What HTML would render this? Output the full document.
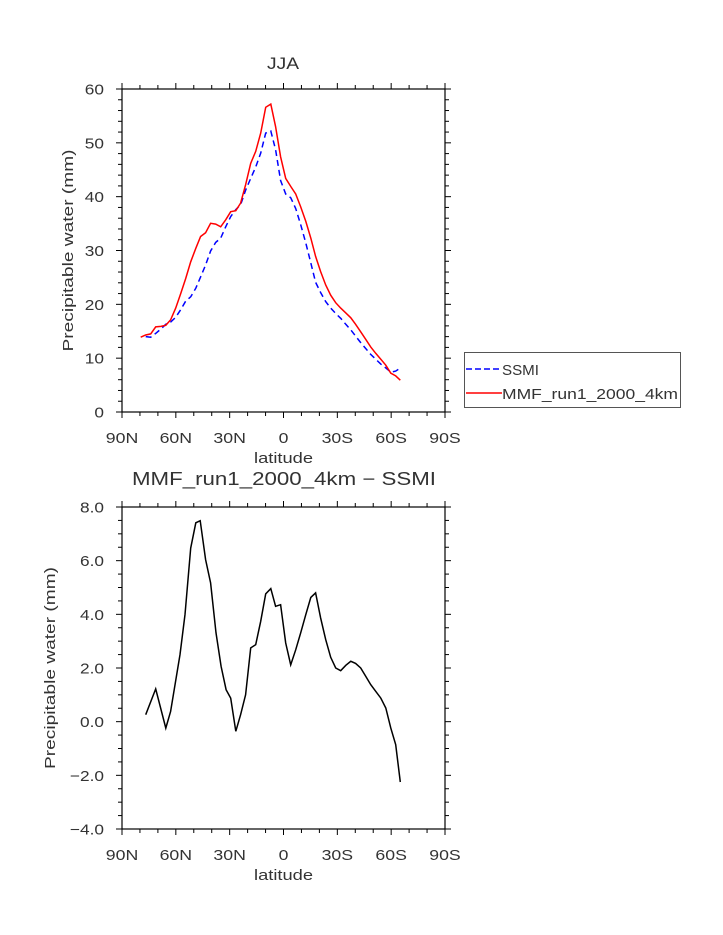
<!DOCTYPE html>
<html><head><meta charset="utf-8"><style>
body{margin:0;background:#fff}
svg{display:block;font-family:"Liberation Sans","DejaVu Sans",sans-serif}
text{fill:#333}
</style></head><body>
<svg id="chart" width="723" height="935" viewBox="0 0 723 935" xmlns="http://www.w3.org/2000/svg"></svg>
<script>
const lats=[79.6,76.8,74,71.2,68.4,65.6,62.9,60.1,57.3,54.5,51.7,48.9,46.2,43.4,40.6,37.8,35,32.2,29.4,26.6,23.9,21.1,18.3,15.5,12.7,9.9,7.1,4.4,1.6,-1.2,-4,-6.8,-9.6,-12.4,-15.2,-17.9,-20.7,-23.5,-26.3,-29.1,-31.9,-34.7,-37.5,-40.2,-43,-45.8,-48.6,-51.4,-54.2,-57,-59.8,-62.5,-65.1];
const mmf=[13.9,14.3,14.5,15.8,15.9,16.1,17.1,19.3,22.0,24.8,27.9,30.4,32.6,33.3,35.05,34.9,34.4,35.7,37.2,37.4,38.8,42.2,46.2,48.4,51.8,56.6,57.2,53.0,47.4,43.4,41.9,40.5,38.1,35.4,32.3,28.9,26.1,23.6,21.7,20.3,19.3,18.4,17.5,16.3,14.9,13.5,12.1,10.9,9.8,8.7,7.2,6.7,5.9];
const ssmi=[null,14.0,13.9,14.6,15.4,16.3,16.7,17.6,19.0,20.6,21.4,23.0,25.1,27.3,29.9,31.5,32.3,34.4,36.3,37.6,38.5,41.2,43.4,45.5,48.1,51.8,52.2,48.7,43.0,40.5,39.8,37.8,34.8,31.4,27.7,24.1,22.2,20.5,19.3,18.3,17.4,16.3,15.25,14.1,12.9,11.8,10.7,9.8,8.9,8.2,7.4,7.6,8.15];
const diffLats=[76.8,71.2,65.6,62.9,57.7,54.9,51.7,48.9,46.4,43.4,40.6,37.6,34.8,32,29.4,26.6,23.9,21.1,18.3,15.5,12.7,9.9,7.1,4.4,1.6,-1.2,-4,-6.8,-9.6,-12.4,-15.2,-17.9,-20.7,-23.5,-26.3,-29.1,-31.9,-34.7,-37.5,-40.2,-43,-45.8,-48.6,-51.4,-54.2,-57,-59.8,-62.5,-65.1];
const diff=[0.26,1.22,-0.24,0.38,2.5,3.99,6.47,7.41,7.49,6.04,5.17,3.31,2.06,1.19,0.88,-0.36,0.26,1.0,2.75,2.87,3.74,4.76,4.96,4.30,4.36,2.93,2.12,2.68,3.31,3.99,4.63,4.80,3.87,3.06,2.40,2.00,1.90,2.10,2.25,2.17,2.0,1.69,1.38,1.13,0.88,0.51,-0.24,-0.86,-2.25];
const xTicks=[90,60,30,0,-30,-60,-90];
const xTickLabels=["90N","60N","30N","0","30S","60S","90S"];
const topYTicks=[0,10,20,30,40,50,60];
const botYTicks=[-4,-2,0,2,4,6,8];
const botYLabels=["−4.0","−2.0","0.0","2.0","4.0","6.0","8.0"];

const svgEl=document.getElementById('chart');
const NS='http://www.w3.org/2000/svg';
function mk(tag,attrs,parent){const e=document.createElementNS(NS,tag);for(const k in attrs)e.setAttribute(k,attrs[k]);(parent||svgEl).appendChild(e);return e;}
function stretch(t,f){const w=t.getComputedTextLength();t.setAttribute('textLength',(w*f).toFixed(1));t.setAttribute('lengthAdjust','spacingAndGlyphs');}
function fit(t,w){t.setAttribute('textLength',w);t.setAttribute('lengthAdjust','spacingAndGlyphs');}
const L=122,R=445;
const xs=lat=>L+(90-lat)/180*(R-L);

function panel(name,T,B,ymin,ymax,yt,ytl,ylabel,ylabelX,minorStep){
  const g=mk('g',{});
  
  
  const ys=v=>B-(v-ymin)/(ymax-ymin)*(B-T);
  const fr=mk('rect',{x:L,y:T,width:R-L,height:B-T,fill:'none',stroke:'#000','stroke-width':1.2},g);
  
  
  for(let lat=90;lat>=-90;lat-=10){
    const x=xs(lat);const maj=lat%30===0;const len=maj?6:4;
    mk('line',{x1:x,y1:B,x2:x,y2:B+len,stroke:'#000'},g);
    mk('line',{x1:x,y1:T,x2:x,y2:T-len,stroke:'#000'},g);
  }
  xTicks.forEach((t,i)=>{const tx=mk('text',{x:xs(t),y:B+31,'text-anchor':'middle','font-size':15},g);tx.textContent=xTickLabels[i];
    
    
    stretch(tx,1.18);});
  for(let v=ymin;v<=ymax+1e-6;v+=minorStep){
    const y=ys(v);const maj=yt.some(t=>Math.abs(t-v)<1e-6);const len=maj?6:4;
    mk('line',{x1:L,y1:y,x2:L-len,y2:y,stroke:'#000'},g);
    mk('line',{x1:R,y1:y,x2:R+len,y2:y,stroke:'#000'},g);
  }
  yt.forEach((t,i)=>{const tx=mk('text',{x:L-18,y:ys(t)+5.5,'text-anchor':'end','font-size':15},g);tx.textContent=ytl[i];
    
    
    stretch(tx,1.15);});
  const xl=mk('text',{x:(L+R)/2,y:B+51,'text-anchor':'middle','font-size':15},g);xl.textContent='latitude';
  
  
  fit(xl,59);
  const yl=mk('text',{x:ylabelX,y:(T+B)/2,'text-anchor':'middle','font-size':15,transform:`rotate(-90 ${ylabelX} ${(T+B)/2})`},g);yl.textContent=ylabel;
  
  
  fit(yl,202);
  return {g,ys};
}
function pathD(latArr,vals,ys){let d='';let pen=false;vals.forEach((v,i)=>{if(v==null){pen=false;return;}d+=(pen?'L':'M')+xs(latArr[i]).toFixed(1)+','+ys(v).toFixed(1);pen=true;});return d;}

const topPanel=panel('top-panel',89,412,0,60,topYTicks,topYTicks.map(String),'Precipitable water  (mm)',73,2);
const t1=mk('text',{x:283,y:69,'text-anchor':'middle','font-size':17});t1.textContent='JJA';


fit(t1,32);
const sL=mk('path',{d:pathD(lats,ssmi,topPanel.ys),fill:'none',stroke:'#0000ff','stroke-width':1.5,'stroke-dasharray':'6,4'},topPanel.g);


const mL=mk('path',{d:pathD(lats,mmf,topPanel.ys),fill:'none',stroke:'#ff0000','stroke-width':1.5},topPanel.g);



const botPanel=panel('bottom-panel',507,829,-4,8,botYTicks,botYLabels,'Precipitable water  (mm)',55,0.5);
const t2=mk('text',{x:284,y:485,'text-anchor':'middle','font-size':18});t2.textContent='MMF_run1_2000_4km − SSMI';


fit(t2,304);
const dL=mk('path',{d:pathD(diffLats,diff,botPanel.ys),fill:'none',stroke:'#000','stroke-width':1.5},botPanel.g);



const lg=mk('g',{});


mk('rect',{x:464.5,y:352.5,width:216,height:55,fill:'#fff',stroke:'#555'},lg);
mk('line',{x1:466,y1:369,x2:502,y2:369,stroke:'#0000ff','stroke-width':1.5,'stroke-dasharray':'6,3'},lg);
const l1=mk('text',{x:502,y:375,'font-size':15},lg);l1.textContent='SSMI';


fit(l1,37);
mk('line',{x1:466,y1:393,x2:502,y2:393,stroke:'#ff0000','stroke-width':1.5},lg);
const l2=mk('text',{x:502,y:399,'font-size':15},lg);l2.textContent='MMF_run1_2000_4km';


fit(l2,176);
</script>
</body></html>
